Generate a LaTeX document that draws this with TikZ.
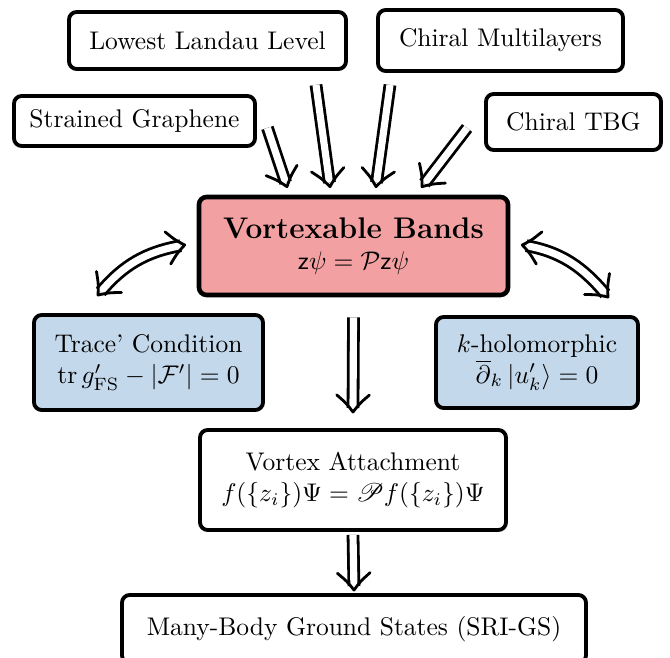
\documentclass[tikz,border=0pt]{standalone}
\usepackage{amsmath,amssymb}
\usepackage{mathrsfs}
\usetikzlibrary{arrows.meta,calc}
\definecolor{vbpink}{RGB}{242,160,162}
\definecolor{condblue}{RGB}{196,216,235}
\newcommand\tiphead[2]{%
  \draw[tipline, shift={(#1)}, rotate=#2]
    (-6.7pt,6.4pt) .. controls (-3.4pt,2.6pt) .. (0pt,0pt)
    .. controls (-3.4pt,-2.6pt) .. (-6.7pt,-6.4pt);}
\newcommand\dblarr[2]{%
  \draw[shaft, shorten >=1.6pt] (#1) -- (#2);
  \path let \p1=(#1), \p2=(#2), \n1={atan2(\y2-\y1,\x2-\x1)} in \pgfextra{\xdef\arrang{\n1}};
  \tiphead{#2}{\arrang}}
\begin{document}
\begin{tikzpicture}[x=0.392pt,y=0.392pt,
  box/.style={draw, line width=1.5pt, rounded corners=3pt, inner sep=0pt, align=center, font=\normalsize},
  sz/.style 2 args={minimum width=#1*0.392pt, minimum height=#2*0.392pt},
  shaft/.style={double, double distance=2.8pt, line width=1.1pt},
  tipline/.style={line width=1.1pt, line cap=round, line join=round}]
\useasboundingbox (0,0) rectangle (670,658);
% top sources
\node[box, sz={277}{57}] (lll) at (207.5,617.5) {Lowest Landau Level};
\node[box, sz={245}{61}] (cm) at (500.5,617.5) {Chiral Multilayers};
\node[box, sz={241}{50}] (sg) at (134.5,537) {Strained Graphene};
\node[box, sz={175}{56}] (tbg) at (573.5,536) {Chiral TBG};
% central
\node[box, sz={309}{98}, fill=vbpink, line width=1.8pt] (vb) at (353.5,412)
  {{\fontsize{11.7}{14}\selectfont\bfseries Vortexable Bands}\\ $\mathsf{z}\psi=\mathcal{P}\mathsf{z}\psi$};
% conditions
\node[box, sz={229}{95}, fill=condblue] (tr) at (148.5,295.5)
  {Trace' Condition\\ $\mathrm{tr}\,g'_{\mathrm{FS}}-|\mathcal{F}'|=0$};
\node[box, sz={202}{91}, fill=condblue] (kh) at (537,295.5)
  {$k$-holomorphic\\ $\overline{\partial}_k\,|u'_k\rangle=0$};
% lower
\node[box, sz={306}{100}] (va) at (353,178)
  {Vortex Attachment\\ $f(\{z_i\})\Psi=\mathscr{P}f(\{z_i\})\Psi$};
\node[box, sz={464}{68}] (mb) at (354,29) {Many-Body Ground States (SRI-GS)};
% arrows into vortexable bands
\dblarr{$(sg.south east)+(10.5,20)$}{$(vb.north)+(-66.5,8)$}
\dblarr{$(lll.south)+(108.5,-14)$}{$(vb.north)+(-23.5,8)$}
\dblarr{$(cm.south)+(-110.5,-12)$}{$(vb.north)+(22.5,8)$}
\dblarr{$(tbg.west)+(-17,-6)$}{$(vb.north)+(68.5,8)$}
% equivalences (double-headed, curved)
\coordinate (la) at ($(vb.west)+(-12,1)$);
\coordinate (lb) at ($(tr.north)+(-50.5,18)$);
\coordinate (ra) at ($(vb.east)+(12,1)$);
\coordinate (rb) at ($(kh.north)+(71,18)$);
\draw[shaft, shorten <=1.6pt, shorten >=1.6pt] (la) to[out=190,in=50] (lb);
\tiphead{la}{10}
\tiphead{lb}{230}
\draw[shaft, shorten <=1.6pt, shorten >=1.6pt] (ra) to[out=-10,in=130] (rb);
\tiphead{ra}{170}
\tiphead{rb}{310}
% downward
\dblarr{$(vb.south)+(0,-20)$}{$(va.north)+(0,16)$}
\dblarr{$(va.south)+(0,-3)$}{$(mb.north)+(0,3)$}
\end{tikzpicture}
\end{document}
